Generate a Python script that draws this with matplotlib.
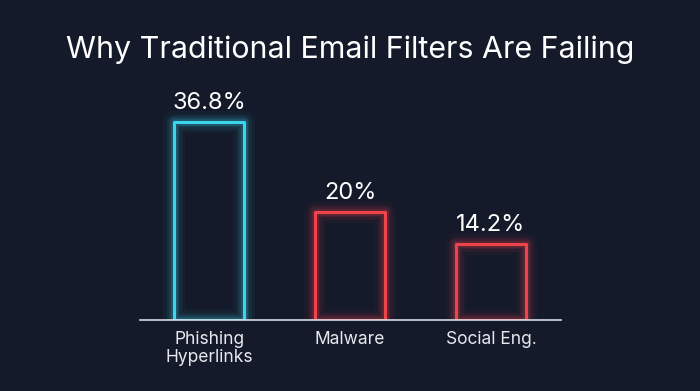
import matplotlib.pyplot as plt

categories = ["Phishing\nHyperlinks", "Malware", "Social Eng."]
values = [36.8, 20, 14.2]
labels = ["36.8%", "20%", "14.2%"]
colors = ["#3ad6ee", "#f0444c", "#f0444c"]

bg = "#141a2a"
plt.rcParams['font.family'] = ['Inter', 'DejaVu Sans']

fig = plt.figure(figsize=(7, 3.91), dpi=100, facecolor=bg)
ax = fig.add_axes([140 / 700, 71 / 391, 421 / 700, 230 / 391])
ax.set_facecolor(bg)

x = list(range(len(values)))

# soft glow around the outlines
for lw, a in [(16, 0.04), (11, 0.07), (7.5, 0.10), (5, 0.15)]:
    ax.bar(x, values, width=0.5, fill=False, edgecolor=colors, linewidth=lw,
           alpha=a, joinstyle="round")
ax.bar(x, values, width=0.5, fill=False, edgecolor=colors, linewidth=2.2,
       joinstyle="round")

for xi, v, t in zip(x, values, labels):
    ax.text(xi, v + 1.5, t, ha="center", va="bottom", color="white",
            fontsize=17)

ax.set_xlim(-0.49, 2.497)
ax.set_ylim(0, 230 / 5.38)
ax.set_xticks(x)
ax.set_xticklabels(categories, color="#e8e8ee", fontsize=12.5, linespacing=1.1)
ax.tick_params(axis="x", length=0, pad=8)
ax.set_yticks([])
for s in ["top", "right", "left"]:
    ax.spines[s].set_visible(False)
ax.spines["bottom"].set_color("#d8dbe2")
ax.spines["bottom"].set_linewidth(1.2)
ax.spines["bottom"].set_zorder(5)

fig.text(0.5, 1 - 50 / 391, "Why Traditional Email Filters Are Failing",
         ha="center", va="center", color="white", fontsize=21.9)

fig.savefig("out.png", dpi=100, facecolor=bg)
